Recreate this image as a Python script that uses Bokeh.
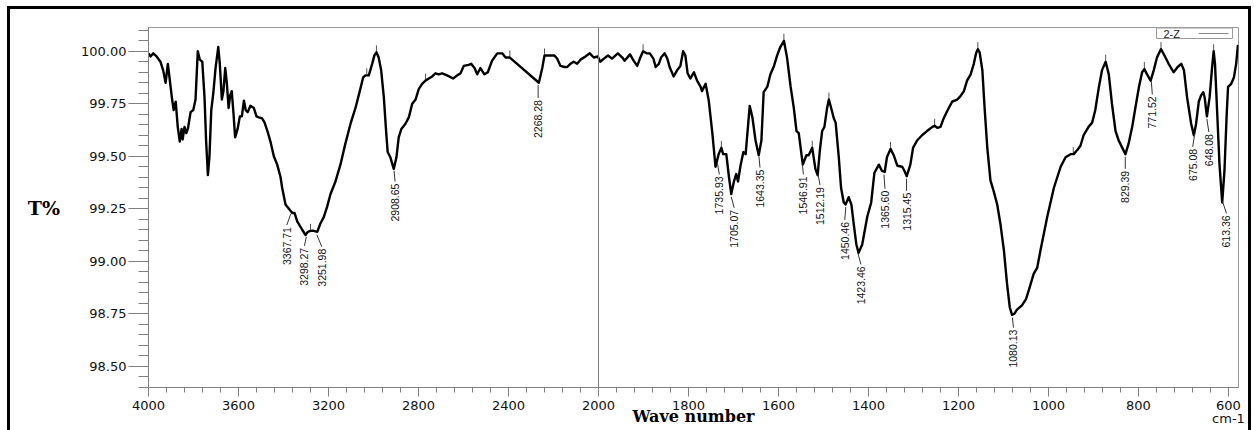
import numpy as np
from bokeh.plotting import figure
from bokeh.models import (FixedTicker, Span, ColumnDataSource, NumeralTickFormatter, Range1d,
                          InlineStyleSheet)
from bokeh.core.properties import value
from bokeh.embed import file_html
from bokeh.resources import INLINE

# ---------------- data ----------------
wavenumber = [
    3999, 3991, 3979, 3964, 3947, 3935, 3924, 3914, 3905, 3895, 3888, 3879, 3870, 3861, 3853,
    3848, 3840, 3832, 3825, 3813, 3801, 3791, 3781, 3772, 3761, 3751, 3744, 3736, 3729, 3721,
    3712, 3702, 3690, 3683, 3674, 3667, 3659, 3652, 3644, 3637, 3630, 3622, 3615, 3604, 3594,
    3585, 3576, 3568, 3559, 3547, 3532, 3520, 3510, 3495, 3484, 3470, 3458, 3443, 3428, 3413,
    3406, 3391, 3376, 3361, 3351, 3339, 3317, 3302, 3292, 3280, 3265, 3250, 3236, 3221, 3206,
    3191, 3169, 3147, 3125, 3102, 3080, 3061, 3046, 3036, 3021, 3006, 2996, 2987, 2977, 2966,
    2954, 2944, 2937, 2925, 2910, 2898, 2888, 2876, 2858, 2843, 2828, 2813, 2799, 2784, 2769,
    2754, 2739, 2725, 2710, 2695, 2673, 2646, 2628, 2613, 2599, 2577, 2566, 2551, 2539, 2525,
    2507, 2492, 2473, 2450, 2428, 2413, 2394, 2265, 2250, 2240, 2221, 2196, 2184, 2169, 2151,
    2139, 2125, 2110, 2095, 2080, 2058, 2039, 2021, 2003, 1996, 1988, 1979, 1970, 1957, 1947,
    1942, 1930, 1922, 1914, 1907, 1901, 1893, 1886, 1878, 1873, 1866, 1861, 1853, 1847, 1842,
    1833, 1825, 1818, 1812, 1807, 1802, 1796, 1788, 1781, 1773, 1770, 1762, 1755, 1747, 1740,
    1733, 1727, 1723, 1716, 1710, 1705, 1699, 1694, 1690, 1684, 1678, 1673, 1664, 1658, 1651,
    1644, 1638, 1633, 1625, 1618, 1610, 1603, 1596, 1588, 1581, 1573, 1566, 1560, 1555, 1546,
    1538, 1533, 1525, 1518, 1513, 1508, 1503, 1498, 1492, 1488, 1483, 1477, 1473, 1466, 1461,
    1455, 1451, 1444, 1438, 1433, 1427, 1422, 1414, 1403, 1394, 1387, 1377, 1370, 1364, 1359,
    1351, 1344, 1336, 1325, 1320, 1315, 1307, 1301, 1292, 1281, 1270, 1258, 1253, 1247, 1240,
    1233, 1224, 1214, 1203, 1196, 1188, 1181, 1173, 1166, 1161, 1157, 1153, 1147, 1142, 1136,
    1129, 1122, 1114, 1107, 1099, 1092, 1086, 1081, 1076, 1070, 1059, 1050, 1042, 1033, 1025,
    1018, 1003, 988, 973, 962, 951, 944, 936, 929, 922, 911, 903, 896, 888, 881,
    873, 866, 859, 851, 844, 836, 829, 822, 814, 807, 799, 792, 787, 781, 773,
    766, 759, 750, 740, 733, 722, 713, 705, 699, 692, 683, 677, 672, 666, 661,
    656, 653, 648, 642, 637, 633, 630, 625, 620, 614, 609, 604, 601, 594, 588,
    583, 579,
]
transmittance = [
    99.99, 99.975, 99.99, 99.975, 99.95, 99.91, 99.85, 99.94, 99.86, 99.77, 99.72, 99.76, 99.64, 99.57, 99.63,
    99.58, 99.64, 99.61, 99.63, 99.71, 99.72, 99.77, 100.00, 99.96, 99.95, 99.78, 99.575, 99.41, 99.50, 99.72,
    99.80, 99.92, 100.02, 99.94, 99.77, 99.81, 99.92, 99.85, 99.73, 99.79, 99.81, 99.70, 99.59, 99.63, 99.69,
    99.69, 99.765, 99.72, 99.71, 99.74, 99.73, 99.69, 99.685, 99.68, 99.66, 99.615, 99.57, 99.50, 99.46, 99.40,
    99.35, 99.27, 99.25, 99.23, 99.23, 99.19, 99.15, 99.125, 99.14, 99.145, 99.145, 99.14, 99.18, 99.21, 99.26,
    99.32, 99.38, 99.46, 99.56, 99.655, 99.73, 99.81, 99.875, 99.885, 99.885, 99.94, 99.98, 99.995, 99.97, 99.91,
    99.78, 99.62, 99.52, 99.495, 99.44, 99.495, 99.59, 99.63, 99.655, 99.685, 99.75, 99.77, 99.82, 99.845, 99.86,
    99.87, 99.88, 99.895, 99.89, 99.895, 99.885, 99.87, 99.885, 99.895, 99.93, 99.935, 99.94, 99.92, 99.89, 99.92,
    99.89, 99.90, 99.955, 99.99, 99.99, 99.97, 99.97, 99.85, 99.92, 99.98, 99.98, 99.98, 99.965, 99.93, 99.925,
    99.925, 99.94, 99.95, 99.94, 99.96, 99.975, 99.99, 99.97, 99.975, 99.95, 99.965, 99.98, 99.965, 99.99, 99.97,
    99.955, 99.985, 99.955, 99.93, 99.97, 100.00, 99.99, 99.99, 99.965, 99.925, 99.94, 99.97, 99.99, 99.965, 99.925,
    99.88, 99.91, 99.93, 100.00, 99.98, 99.895, 99.87, 99.90, 99.86, 99.83, 99.81, 99.845, 99.765, 99.61, 99.45,
    99.51, 99.54, 99.51, 99.51, 99.40, 99.32, 99.38, 99.415, 99.38, 99.46, 99.52, 99.51, 99.74, 99.685, 99.575,
    99.505, 99.575, 99.805, 99.83, 99.89, 99.93, 99.98, 100.02, 100.05, 99.97, 99.83, 99.73, 99.62, 99.61, 99.46,
    99.505, 99.505, 99.54, 99.44, 99.41, 99.53, 99.62, 99.64, 99.73, 99.77, 99.73, 99.68, 99.66, 99.495, 99.35,
    99.28, 99.27, 99.305, 99.27, 99.18, 99.08, 99.04, 99.08, 99.21, 99.28, 99.42, 99.46, 99.43, 99.425, 99.495,
    99.535, 99.505, 99.455, 99.45, 99.43, 99.405, 99.46, 99.54, 99.575, 99.60, 99.62, 99.64, 99.645, 99.635, 99.64,
    99.68, 99.72, 99.76, 99.77, 99.785, 99.81, 99.86, 99.89, 99.94, 99.99, 100.01, 99.995, 99.91, 99.73, 99.54,
    99.385, 99.335, 99.27, 99.18, 99.05, 98.89, 98.78, 98.745, 98.75, 98.77, 98.79, 98.82, 98.875, 98.94, 98.97,
    99.05, 99.21, 99.35, 99.45, 99.495, 99.51, 99.51, 99.53, 99.55, 99.60, 99.64, 99.66, 99.72, 99.83, 99.91,
    99.95, 99.89, 99.75, 99.62, 99.575, 99.54, 99.51, 99.56, 99.64, 99.73, 99.83, 99.90, 99.915, 99.89, 99.86,
    99.91, 99.97, 100.01, 99.97, 99.94, 99.90, 99.925, 99.94, 99.91, 99.78, 99.655, 99.60, 99.655, 99.76, 99.79,
    99.805, 99.78, 99.69, 99.78, 99.91, 100.00, 99.94, 99.70, 99.46, 99.28, 99.43, 99.70, 99.83, 99.845, 99.875,
    99.94, 100.03,
]
peak_labels = ["3367.71", "3298.27", "3251.98", "2908.65", "2268.28", "1735.93", "1705.07",
               "1643.35", "1546.91", "1512.19", "1450.46", "1423.46", "1365.60", "1315.45",
               "1080.13", "829.39", "771.52", "675.08", "648.08", "613.36"]
max_marks = [3280, 3030, 2987, 2769, 2394, 2240, 1901, 1727, 1588, 1525, 1488, 1351,
             1253, 1157, 945, 873, 787, 750, 633]
x_tick_labels = [4000, 3600, 3200, 2800, 2400, 2000, 1800, 1600, 1400, 1200, 1000, 800, 600]
y_ticks = [98.50, 98.75, 99.00, 99.25, 99.50, 99.75, 100.00]
series_name = "2-Z"
x_title = "Wave number"
y_title = "T%"
x_unit = "cm-1"

# ---------------- layout (pixels) ----------------
W, H = 1254, 430
FL, FR, FT, FB = 148, 1238, 27, 387           # frame edges
PX_U = 0.45                                    # pixels per transformed x unit
Y_TOP, Y_BOT = 100.113, 98.399
PX_T = (FB - FT) / (Y_TOP - Y_BOT)

# label layout: horizontal shift and drop below the curve (pixels)
label_dx = [-4, -2, 5, 1, 0, 2, 3, 1, 1, 2, -1, 3, 1, 0, 1, 0, 1, -2, 2, 4]
label_gap = [15, 13, 16, 15, 17, 16, 15, 15, 14, 15, 17, 15, 18, 16, 14, 16, 17, 17, 17, 16]


def to_u(wn):
    wn = np.asarray(wn, dtype=float)
    return np.where(wn >= 2000, (4000 - wn) / 2.0, 1000 + (2000 - wn))


def px2u(px):
    return (px - FL) / PX_U


def py2t(py):
    return Y_TOP - (py - FT) / PX_T


u = to_u(wavenumber)
T = np.asarray(transmittance, float)

frame_css = InlineStyleSheet(css="""
:host::after {
  content: "";
  position: absolute;
  left: 7px; top: 6px; right: 3px; bottom: 0px;
  border: 3px solid black;
  border-bottom: none;
  pointer-events: none;
  z-index: 100;
}
""")

p = figure(width=W, height=H, output_backend="svg", toolbar_location=None,
           x_range=Range1d(0, (FR - FL) / PX_U), y_range=Range1d(Y_BOT, Y_TOP),
           min_border_left=FL, min_border_right=W - FR, min_border_top=FT,
           min_border_bottom=H - FB, stylesheets=[frame_css])
p.grid.visible = False
p.outline_line_color = "#9a9a9a"
p.outline_line_width = 1
p.background_fill_color = "white"
p.border_fill_color = "white"

# axes
xt = [int(v) for v in to_u(x_tick_labels)]
minor_x = list(np.arange(0, 2440, 40))
p.xaxis.ticker = FixedTicker(ticks=xt, minor_ticks=minor_x)
overrides = {int(k): str(l) for k, l in zip(xt, x_tick_labels)}
overrides[xt[-1]] = f"{x_tick_labels[-1]}\n{x_unit}"
p.xaxis.major_label_overrides = overrides
p.yaxis.ticker = FixedTicker(ticks=y_ticks,
                             minor_ticks=list(np.round(np.arange(98.40, 100.12, 0.05), 2)))
p.yaxis.formatter = NumeralTickFormatter(format="0.00")
for ax in (p.xaxis[0], p.yaxis[0]):
    ax.axis_line_color = "#808080"
    ax.major_tick_line_color = "#808080"
    ax.minor_tick_line_color = "#808080"
    ax.major_tick_in = 0
    ax.minor_tick_in = 0
    ax.major_label_text_font = "DejaVu Sans"
    ax.major_label_text_font_size = "13px"
    ax.major_label_text_color = "#111111"
    ax.axis_label_text_font = "DejaVu Serif"
    ax.axis_label_text_font_style = "bold"
    ax.axis_label_text_color = "black"
p.yaxis.major_tick_out = 20
p.yaxis.minor_tick_out = 10
p.yaxis.major_label_standoff = 2
p.yaxis.axis_label = y_title
p.yaxis.axis_label_orientation = "horizontal"
p.yaxis.axis_label_text_font_size = "19px"
p.yaxis.axis_label_standoff = 18
p.xaxis.major_tick_out = 9
p.xaxis.minor_tick_out = 5
p.xaxis.major_label_standoff = 1
p.xaxis.major_label_text_line_height = 0.9
p.xaxis.axis_label = x_title
p.xaxis.axis_label_text_font_size = "16px"
p.xaxis.axis_label_standoff = -22

# divider at 2000 cm-1
p.add_layout(Span(location=float(to_u(2000)), dimension="height",
                  line_color="#7a7a7a", line_width=1))

# peak-pick marks on maxima
mu = to_u(max_marks)
mt = np.interp(mu, u, T)
p.segment(x0=mu, y0=mt + 1.0 / PX_T, x1=mu, y1=mt + 7.0 / PX_T,
          line_color="#555555", line_width=1)

# spectrum
src = ColumnDataSource(dict(u=u, t=T))
p.line("u", "t", source=src, line_color="black", line_width=2.4, line_join="round")

# peak labels with leaders
pw = np.array([float(s) for s in peak_labels])
pu = to_u(pw)
pt = np.interp(pu, u, T)
dxu = np.array(label_dx) / PX_U
gap = np.array(label_gap, float)
p.segment(x0=pu, y0=pt - 3.0 / PX_T, x1=pu + dxu, y1=pt - (gap - 1) / PX_T,
          line_color="#333333", line_width=1)
lsrc = ColumnDataSource(dict(x=pu + dxu, y=pt - (gap + 1) / PX_T, text=peak_labels))
p.text(x="x", y="y", text="text", source=lsrc, angle=np.pi / 2,
       text_align="right", text_baseline="middle",
       text_font=value("Liberation Sans"), text_font_size="10.5px",
       text_color="#111111")

# legend box (top right)
p.quad(left=[px2u(1156)], right=[px2u(1232)], top=[py2t(27.5)], bottom=[py2t(38)],
       fill_color="white", line_color="#9a9a9a", line_width=1)
p.text(x=[px2u(1163)], y=[py2t(33)], text=[series_name], text_baseline="middle",
       text_font=value("Liberation Sans"), text_font_size="11px", text_color="#1a1a1a")
p.segment(x0=[px2u(1198)], y0=[py2t(33)], x1=[px2u(1228)], y1=[py2t(33)],
          line_color="#8a8a8a", line_width=1)

open("out.html", "w").write(file_html(p, INLINE))
